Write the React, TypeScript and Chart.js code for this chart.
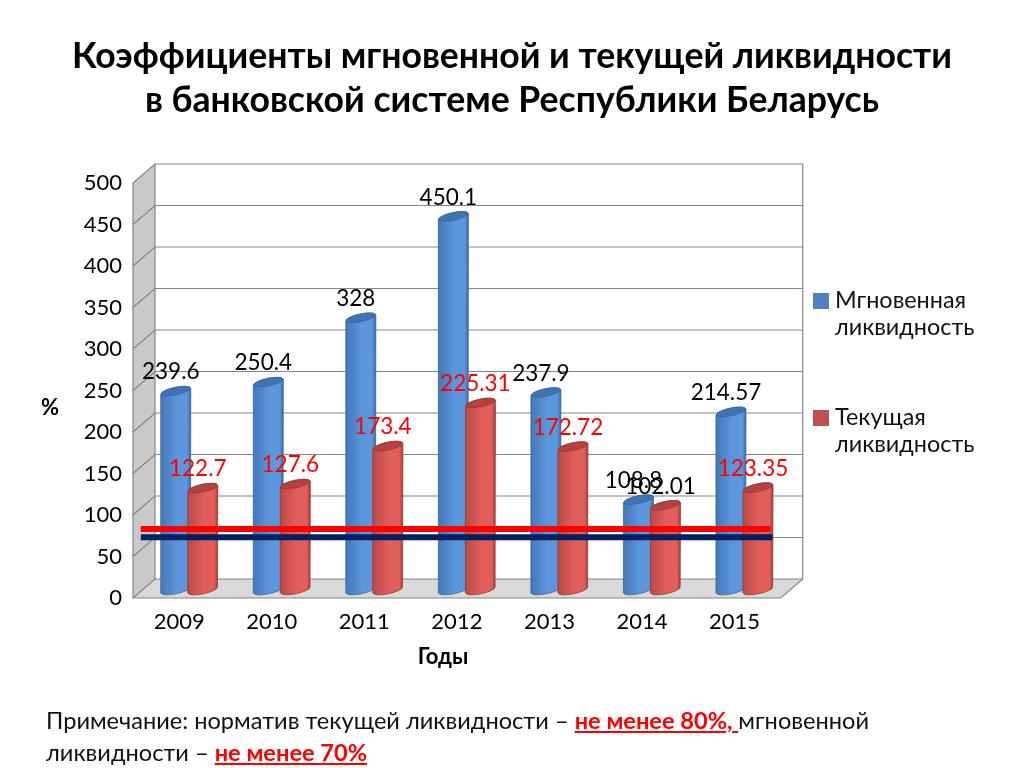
import React, { useEffect, useRef } from "react";
import { Chart, registerables } from "chart.js";

Chart.register(...registerables);

const FONT = "Lato, Carlito, sans-serif";

const years = ["2009", "2010", "2011", "2012", "2013", "2014", "2015"];
const instantValues = [239.6, 250.4, 328, 450.1, 237.9, 108.8, 214.57];
const currentValues = [122.7, 127.6, 173.4, 225.31, 172.72, 102.01, 123.35];
const instantLimit = [70, 70, 70, 70, 70, 70, 70];
const currentLimit = [80, 80, 80, 80, 80, 80, 80];
const instantName = "Мгновенная ликвидность";
const currentName = "Текущая ликвидность";
const titleLines = [
  "Коэффициенты мгновенной и текущей ликвидности",
  "в банковской системе Республики Беларусь",
];
const yTitle = "%";
const xTitle = "Годы";

const DEPTH_X = 22;
const DEPTH_Y = -19;
const BAR_SHIFT_X = 10;
const BAR_SHIFT_Y = -8;

const palette: Record<string, { left: string; edge: string; mid: string; cap: string; line: string }> = {
  blue: { left: "#4478b8", edge: "#386aa6", mid: "#5c96dc", cap: "#3f74b4", line: "#3a6699" },
  red: { left: "#bb4a47", edge: "#a33d3a", mid: "#e25e5b", cap: "#b5423f", line: "#963734" },
};

function drawCylinder(ctx: CanvasRenderingContext2D, cx: number, top: number, base: number, w: number, key: string) {
  const c = palette[key];
  const rx = w / 2;
  const ry = 3.8;
  const rot = (-12 * Math.PI) / 180;
  const dy = Math.sin(rot) * rx;
  const grad = ctx.createLinearGradient(cx - rx, 0, cx + rx, 0);
  grad.addColorStop(0, c.left);
  grad.addColorStop(0.55, c.mid);
  grad.addColorStop(0.88, c.mid);
  grad.addColorStop(1, c.edge);
  ctx.save();
  ctx.beginPath();
  ctx.moveTo(cx - rx, top - dy);
  ctx.lineTo(cx - rx, base - dy);
  ctx.ellipse(cx, base, rx, ry, rot, Math.PI, 0, true);
  ctx.lineTo(cx + rx, top + dy);
  ctx.ellipse(cx, top, rx, ry, rot, 0, Math.PI, true);
  ctx.closePath();
  ctx.fillStyle = grad;
  ctx.fill();
  ctx.strokeStyle = c.line;
  ctx.lineWidth = 0.8;
  ctx.stroke();
  ctx.beginPath();
  ctx.ellipse(cx, top, rx, ry, rot, 0, Math.PI * 2);
  ctx.fillStyle = c.cap;
  ctx.fill();
  ctx.stroke();
  ctx.restore();
}

const boxPlugin = {
  id: "box3d",
  beforeDatasetsDraw(chart: any) {
    const { ctx, scales, chartArea } = chart;
    const y = scales.y;
    const L = chartArea.left;
    const R = chartArea.right;
    const T = y.getPixelForValue(500);
    const B = y.getPixelForValue(0);
    const grid = "#868686";
    ctx.save();
    ctx.fillStyle = "#c9c9c9";
    ctx.beginPath();
    ctx.moveTo(L, T);
    ctx.lineTo(L + DEPTH_X, T + DEPTH_Y);
    ctx.lineTo(L + DEPTH_X, B + DEPTH_Y);
    ctx.lineTo(L, B);
    ctx.closePath();
    ctx.fill();
    ctx.fillStyle = "#d9d9d9";
    ctx.beginPath();
    ctx.moveTo(L, B);
    ctx.lineTo(L + DEPTH_X, B + DEPTH_Y);
    ctx.lineTo(R + DEPTH_X, B + DEPTH_Y);
    ctx.lineTo(R, B);
    ctx.closePath();
    ctx.fill();
    ctx.strokeStyle = grid;
    ctx.lineWidth = 1.2;
    y.ticks.forEach((t: any) => {
      const p = y.getPixelForValue(t.value);
      ctx.beginPath();
      ctx.moveTo(L, p);
      ctx.lineTo(L + DEPTH_X, p + DEPTH_Y);
      ctx.lineTo(R + DEPTH_X, p + DEPTH_Y);
      ctx.stroke();
    });
    ctx.beginPath();
    ctx.moveTo(L, T);
    ctx.lineTo(L, B);
    ctx.lineTo(R, B);
    ctx.lineTo(R + DEPTH_X, B + DEPTH_Y);
    ctx.lineTo(R + DEPTH_X, T + DEPTH_Y);
    ctx.moveTo(L + DEPTH_X, T + DEPTH_Y);
    ctx.lineTo(L + DEPTH_X, B + DEPTH_Y);
    ctx.stroke();
    ctx.restore();
    // cylinders, series by series, from the chart's own bar elements
    chart.data.datasets.forEach((ds: any, di: number) => {
      if (ds.type === "line") return;
      chart.getDatasetMeta(di).data.forEach((el: any) => {
        const p = el.getProps(["x", "y", "base", "width"], true);
        drawCylinder(ctx, p.x + BAR_SHIFT_X, p.y + BAR_SHIFT_Y, p.base + BAR_SHIFT_Y, p.width + 3, ds.colorKey);
      });
    });
  },
};

const limitLinePlugin = {
  id: "limitLine",
  afterDatasetDraw(chart: any, args: any) {
    const ds = chart.data.datasets[args.index];
    if (ds.type !== "line") return;
    const { ctx } = chart;
    const pts = args.meta.data;
    const first = pts[0];
    const last = pts[pts.length - 1];
    ctx.save();
    ctx.strokeStyle = ds.strokeColor;
    ctx.lineWidth = 6;
    ctx.beginPath();
    ctx.moveTo(first.x - 38.5, first.y);
    ctx.lineTo(last.x + ds.endExtra, last.y);
    ctx.stroke();
    ctx.restore();
  },
};

const textPlugin = {
  id: "texts",
  afterDatasetsDraw(chart: any) {
    const { ctx } = chart;
    ctx.save();
    ctx.textAlign = "center";
    ctx.textBaseline = "middle";
    ctx.font = `22.5px ${FONT}`;
    chart.data.datasets.forEach((ds: any, di: number) => {
      if (ds.type === "line") return;
      chart.getDatasetMeta(di).data.forEach((el: any, i: number) => {
        const val = ds.data[i];
        const isCurrent = ds.colorKey === "red";
        ctx.fillStyle = isCurrent && val !== 102.01 ? "#ff0000" : "#000000";
        ctx.fillText(String(val), el.x + 5, el.y + BAR_SHIFT_Y - 19);
      });
    });
    ctx.fillStyle = "#000";
    ctx.font = `bold 22px ${FONT}`;
    ctx.fillText(yTitle, 50, 408);
    ctx.fillText(xTitle, 443, 657);
    // legend
    ctx.textAlign = "left";
    ctx.font = `23.4px ${FONT}`;
    const entries = [
      { name: instantName, color: "#4f81bd", y: 300 },
      { name: currentName, color: "#c0504d", y: 417 },
    ];
    entries.forEach((e) => {
      ctx.fillStyle = e.color;
      ctx.fillRect(813, e.y - 7, 16, 16);
      ctx.fillStyle = "#111";
      e.name.split(" ").forEach((w, i) => ctx.fillText(w, 835, e.y + i * 27));
    });
    ctx.restore();
  },
};

export default function App() {
  const ref = useRef<HTMLCanvasElement>(null);
  useEffect(() => {
    const chart = new Chart(ref.current as HTMLCanvasElement, {
      type: "bar",
      data: {
        labels: years,
        datasets: [
          { label: instantName, data: instantValues, backgroundColor: "transparent", colorKey: "blue", categoryPercentage: 0.584, barPercentage: 1, order: 1 },
          { label: currentName, data: currentValues, backgroundColor: "transparent", colorKey: "red", categoryPercentage: 0.584, barPercentage: 1, order: 1 },
          { type: "line", label: "limit current", data: currentLimit, borderColor: "transparent", strokeColor: "#ff0000", borderWidth: 6, pointRadius: 0, yAxisID: "yLimit", endExtra: 36, order: 0 },
          { type: "line", label: "limit instant", data: instantLimit, borderColor: "transparent", strokeColor: "#002060", borderWidth: 6, pointRadius: 0, yAxisID: "yLimit", endExtra: 38, order: 0 },
        ],
      } as any,
      options: {
        animation: false,
        responsive: false,
        devicePixelRatio: 1,
        layout: { padding: { left: 0, right: 0, top: 0, bottom: 90 } },
        plugins: {
          legend: { display: false },
          tooltip: { enabled: false },
          title: {
            display: true,
            text: titleLines,
            color: "#000",
            font: { family: FONT, size: 35.6, weight: "bold", lineHeight: 1.236 },
            padding: { top: 35, bottom: 60 },
          },
        },
        scales: {
          x: {
            type: "category",
            grid: { display: false },
            border: { display: false },
            ticks: { color: "#000", font: { family: FONT, size: 22 }, padding: 3, maxRotation: 0 },
            afterFit: (s: any) => { s.height = 80; },
          },
          y: {
            min: 0,
            max: 500,
            grid: { display: false },
            border: { display: false },
            ticks: { stepSize: 50, color: "#000", font: { family: FONT, size: 22 }, padding: 3 },
            afterFit: (s: any) => { s.width = 133; },
          },
          yRight: {
            position: "right",
            min: 0,
            max: 500,
            grid: { display: false },
            border: { display: false },
            ticks: { display: false },
            afterFit: (s: any) => { s.width = 243.25; },
          },
          yLimit: { type: "linear", display: false, min: -3.25, max: 496.75 },
        },
      } as any,
      plugins: [boxPlugin, limitLinePlugin, textPlugin],
    });
    return () => chart.destroy();
  }, []);

  const noteRed: React.CSSProperties = { color: "#ff0000", fontWeight: 700, textDecoration: "underline" };
  return (
    <div style={{ position: "absolute", left: 0, top: 0, width: 1024, height: 768, background: "#fff", overflow: "hidden" }}>
      <canvas ref={ref} width={1024} height={768} style={{ display: "block" }} />
      <div style={{ position: "absolute", left: 46, top: 704, width: 950, fontFamily: FONT, fontSize: 23.6, lineHeight: "32px", color: "#111" }}>
        Примечание: норматив текущей ликвидности – <span style={noteRed}>не менее 80%, </span>мгновенной
        <br />
        ликвидности – <span style={noteRed}>не менее 70%</span>
      </div>
    </div>
  );
}
